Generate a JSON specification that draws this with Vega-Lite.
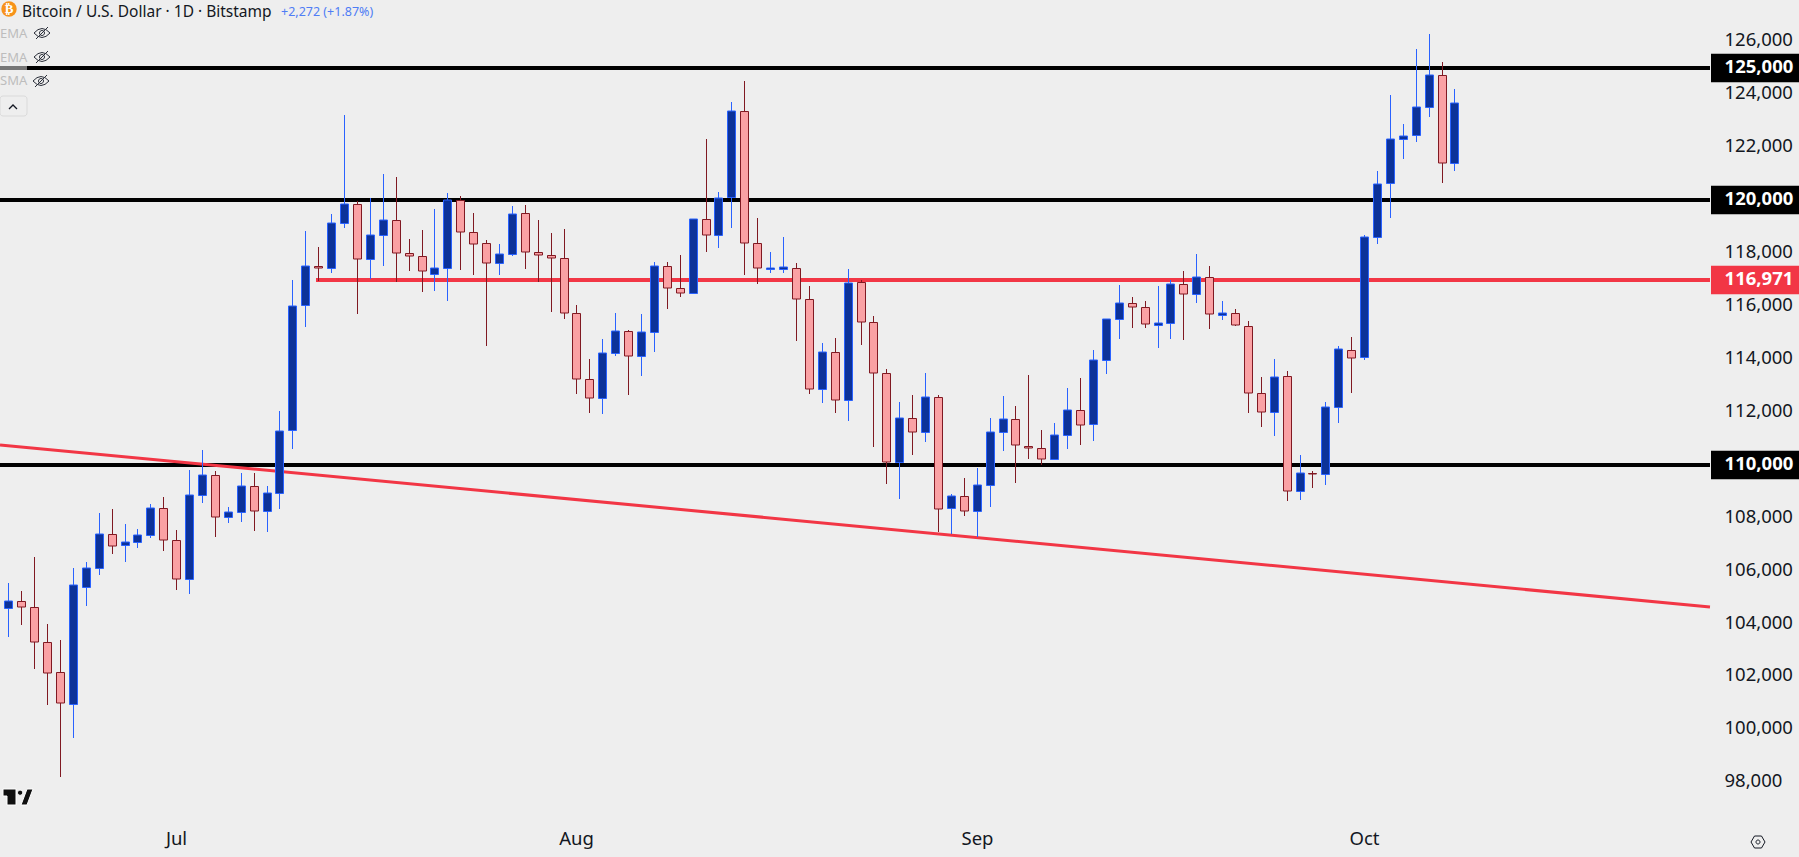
{
  "$schema": "https://vega.github.io/schema/vega-lite/v6.json",
  "width": 1799,
  "height": 857,
  "padding": 0,
  "autosize": {"type": "none"},
  "background": "#EEEEEE",
  "view": {"stroke": null},
  "config": {"font": "Noto Sans", "text": {"font": "Noto Sans"}},
  "datasets": {
    "levels": [
      {"price": 125000, "label": "125,000", "kind": "level", "from": "2025-06-17T08:34:00Z", "to": "2025-10-27T18:00:00Z", "tagFrom": "2025-10-27T20:53:00Z", "tagTo": "2025-11-03T16:19:00Z"},
      {"price": 120000, "label": "120,000", "kind": "level", "from": "2025-06-17T08:34:00Z", "to": "2025-10-27T18:00:00Z", "tagFrom": "2025-10-27T20:53:00Z", "tagTo": "2025-11-03T16:19:00Z"},
      {"price": 110000, "label": "110,000", "kind": "level", "from": "2025-06-17T08:34:00Z", "to": "2025-10-27T18:00:00Z", "tagFrom": "2025-10-27T20:53:00Z", "tagTo": "2025-11-03T16:19:00Z"},
      {"price": 116971, "label": "116,971", "kind": "pivot", "from": "2025-07-11T20:00:00Z", "to": "2025-10-27T18:00:00Z", "tagFrom": "2025-10-27T20:53:00Z", "tagTo": "2025-11-03T16:19:00Z"}
    ],
    "candles": [
      {"date":"2025-06-18","dir":"up","open":104574,"high":105518,"low":103503,"close":104863},
      {"date":"2025-06-19","dir":"down","open":104863,"high":105216,"low":103944,"close":104637},
      {"date":"2025-06-20","dir":"down","open":104637,"high":106513,"low":102294,"close":103289},
      {"date":"2025-06-21","dir":"down","open":103289,"high":103982,"low":100922,"close":102118},
      {"date":"2025-06-22","dir":"down","open":102156,"high":103377,"low":98214,"close":100985},
      {"date":"2025-06-23","dir":"up","open":100947,"high":106097,"low":99688,"close":105443},
      {"date":"2025-06-24","dir":"up","open":105367,"high":106312,"low":104662,"close":106085},
      {"date":"2025-06-25","dir":"up","open":106085,"high":108163,"low":105846,"close":107369},
      {"date":"2025-06-26","dir":"down","open":107369,"high":108326,"low":106639,"close":106941},
      {"date":"2025-06-27","dir":"up","open":106954,"high":107760,"low":106337,"close":107067},
      {"date":"2025-06-28","dir":"up","open":107067,"high":107571,"low":106866,"close":107332},
      {"date":"2025-06-29","dir":"up","open":107332,"high":108515,"low":107243,"close":108352},
      {"date":"2025-06-30","dir":"down","open":108352,"high":108767,"low":106752,"close":107143},
      {"date":"2025-07-01","dir":"down","open":107143,"high":107533,"low":105266,"close":105669},
      {"date":"2025-07-02","dir":"up","open":105669,"high":109800,"low":105128,"close":108843},
      {"date":"2025-07-03","dir":"up","open":108843,"high":110555,"low":108566,"close":109598},
      {"date":"2025-07-04","dir":"down","open":109598,"high":109762,"low":107269,"close":108012},
      {"date":"2025-07-05","dir":"up","open":108012,"high":108389,"low":107810,"close":108201},
      {"date":"2025-07-06","dir":"up","open":108201,"high":109674,"low":107848,"close":109183},
      {"date":"2025-07-07","dir":"down","open":109183,"high":109674,"low":107508,"close":108238},
      {"date":"2025-07-08","dir":"up","open":108238,"high":109195,"low":107470,"close":108918},
      {"date":"2025-07-09","dir":"up","open":108918,"high":112029,"low":108326,"close":111262},
      {"date":"2025-07-10","dir":"up","open":111311,"high":116978,"low":110606,"close":115983},
      {"date":"2025-07-11","dir":"up","open":116021,"high":118829,"low":115215,"close":117519},
      {"date":"2025-07-12","dir":"down","open":117519,"high":118212,"low":116953,"close":117419},
      {"date":"2025-07-13","dir":"up","open":117419,"high":119471,"low":117255,"close":119119},
      {"date":"2025-07-14","dir":"up","open":119119,"high":123199,"low":118955,"close":119836},
      {"date":"2025-07-15","dir":"down","open":119836,"high":119950,"low":115706,"close":117759},
      {"date":"2025-07-16","dir":"up","open":117759,"high":120063,"low":117003,"close":118691},
      {"date":"2025-07-17","dir":"up","open":118665,"high":120982,"low":117519,"close":119232},
      {"date":"2025-07-18","dir":"down","open":119232,"high":120857,"low":116902,"close":117985},
      {"date":"2025-07-19","dir":"down","open":117985,"high":118527,"low":117330,"close":117872},
      {"date":"2025-07-20","dir":"down","open":117872,"high":118867,"low":116537,"close":117305},
      {"date":"2025-07-21","dir":"up","open":117192,"high":119648,"low":116575,"close":117419},
      {"date":"2025-07-22","dir":"up","open":117419,"high":120252,"low":116197,"close":119988},
      {"date":"2025-07-23","dir":"down","open":119987,"high":120151,"low":117368,"close":118778},
      {"date":"2025-07-24","dir":"down","open":118778,"high":119509,"low":117179,"close":118325},
      {"date":"2025-07-25","dir":"down","open":118363,"high":118476,"low":114497,"close":117607},
      {"date":"2025-07-26","dir":"up","open":117607,"high":118338,"low":117179,"close":117947},
      {"date":"2025-07-27","dir":"up","open":117947,"high":119773,"low":117897,"close":119458},
      {"date":"2025-07-28","dir":"down","open":119496,"high":119811,"low":117406,"close":118023},
      {"date":"2025-07-29","dir":"down","open":118023,"high":119244,"low":116915,"close":117910},
      {"date":"2025-07-30","dir":"down","open":117910,"high":118753,"low":115781,"close":117796},
      {"date":"2025-07-31","dir":"down","open":117796,"high":118904,"low":115517,"close":115718},
      {"date":"2025-08-01","dir":"down","open":115718,"high":116021,"low":112683,"close":113225},
      {"date":"2025-08-02","dir":"down","open":113225,"high":113993,"low":111966,"close":112507},
      {"date":"2025-08-03","dir":"up","open":112507,"high":114749,"low":111928,"close":114207},
      {"date":"2025-08-04","dir":"up","open":114207,"high":115731,"low":114119,"close":115038},
      {"date":"2025-08-05","dir":"down","open":115038,"high":115076,"low":112646,"close":114094},
      {"date":"2025-08-06","dir":"up","open":114094,"high":115693,"low":113363,"close":115001},
      {"date":"2025-08-07","dir":"up","open":115001,"high":117658,"low":114270,"close":117494},
      {"date":"2025-08-08","dir":"down","open":117494,"high":117658,"low":115895,"close":116663},
      {"date":"2025-08-09","dir":"down","open":116663,"high":117910,"low":116348,"close":116474},
      {"date":"2025-08-10","dir":"up","open":116474,"high":119270,"low":116474,"close":119270},
      {"date":"2025-08-11","dir":"down","open":119270,"high":122304,"low":118048,"close":118665},
      {"date":"2025-08-12","dir":"up","open":118665,"high":120302,"low":118199,"close":120063},
      {"date":"2025-08-13","dir":"up","open":120101,"high":123702,"low":118955,"close":123350},
      {"date":"2025-08-14","dir":"down","open":123350,"high":124496,"low":117179,"close":118363},
      {"date":"2025-08-15","dir":"down","open":118363,"high":119320,"low":116839,"close":117418},
      {"date":"2025-08-16","dir":"up","open":117406,"high":118035,"low":117255,"close":117431},
      {"date":"2025-08-17","dir":"up","open":117406,"high":118602,"low":117255,"close":117456},
      {"date":"2025-08-18","dir":"down","open":117418,"high":117607,"low":114686,"close":116247},
      {"date":"2025-08-19","dir":"down","open":116247,"high":116751,"low":112683,"close":112847},
      {"date":"2025-08-20","dir":"up","open":112847,"high":114598,"low":112343,"close":114245},
      {"date":"2025-08-21","dir":"down","open":114245,"high":114786,"low":111966,"close":112432},
      {"date":"2025-08-22","dir":"up","open":112432,"high":117393,"low":111663,"close":116852},
      {"date":"2025-08-23","dir":"down","open":116889,"high":116978,"low":114535,"close":115378},
      {"date":"2025-08-24","dir":"down","open":115379,"high":115618,"low":110682,"close":113452},
      {"date":"2025-08-25","dir":"down","open":113452,"high":113603,"low":109284,"close":110090},
      {"date":"2025-08-26","dir":"up","open":110090,"high":112369,"low":108717,"close":111752},
      {"date":"2025-08-27","dir":"down","open":111752,"high":112633,"low":110379,"close":111223},
      {"date":"2025-08-28","dir":"up","open":111223,"high":113465,"low":110870,"close":112545},
      {"date":"2025-08-29","dir":"down","open":112545,"high":112633,"low":107470,"close":108314},
      {"date":"2025-08-30","dir":"up","open":108352,"high":108893,"low":107382,"close":108805},
      {"date":"2025-08-31","dir":"down","open":108805,"high":109498,"low":108075,"close":108239},
      {"date":"2025-09-01","dir":"up","open":108239,"high":109876,"low":107256,"close":109221},
      {"date":"2025-09-02","dir":"up","open":109221,"high":111765,"low":108415,"close":111223},
      {"date":"2025-09-03","dir":"up","open":111223,"high":112596,"low":110530,"close":111714},
      {"date":"2025-09-04","dir":"down","open":111714,"high":112218,"low":109322,"close":110732},
      {"date":"2025-09-05","dir":"down","open":110694,"high":113389,"low":110228,"close":110619},
      {"date":"2025-09-06","dir":"down","open":110619,"high":111311,"low":110002,"close":110203},
      {"date":"2025-09-07","dir":"up","open":110203,"high":111576,"low":110203,"close":111110},
      {"date":"2025-09-08","dir":"up","open":111110,"high":112898,"low":110606,"close":112054},
      {"date":"2025-09-09","dir":"down","open":112054,"high":113276,"low":110757,"close":111488},
      {"date":"2025-09-10","dir":"up","open":111525,"high":114334,"low":110908,"close":113943},
      {"date":"2025-09-11","dir":"up","open":113943,"high":115492,"low":113439,"close":115492},
      {"date":"2025-09-12","dir":"up","open":115492,"high":116789,"low":114762,"close":116097},
      {"date":"2025-09-13","dir":"down","open":116097,"high":116336,"low":115177,"close":115945},
      {"date":"2025-09-14","dir":"down","open":115945,"high":116185,"low":115177,"close":115303},
      {"date":"2025-09-15","dir":"up","open":115291,"high":116751,"low":114422,"close":115341},
      {"date":"2025-09-16","dir":"up","open":115341,"high":116978,"low":114762,"close":116814},
      {"date":"2025-09-17","dir":"down","open":116814,"high":117305,"low":114724,"close":116437},
      {"date":"2025-09-18","dir":"up","open":116437,"high":117960,"low":116122,"close":117079},
      {"date":"2025-09-19","dir":"down","open":117079,"high":117507,"low":115139,"close":115681},
      {"date":"2025-09-20","dir":"up","open":115668,"high":116185,"low":115479,"close":115719},
      {"date":"2025-09-21","dir":"down","open":115719,"high":115870,"low":115252,"close":115265},
      {"date":"2025-09-22","dir":"down","open":115228,"high":115417,"low":111966,"close":112696},
      {"date":"2025-09-23","dir":"down","open":112696,"high":113313,"low":111437,"close":111979},
      {"date":"2025-09-24","dir":"up","open":111979,"high":113994,"low":111097,"close":113301},
      {"date":"2025-09-25","dir":"down","open":113339,"high":113540,"low":108641,"close":108994},
      {"date":"2025-09-26","dir":"up","open":108994,"high":110367,"low":108679,"close":109674},
      {"date":"2025-09-27","dir":"down","open":109699,"high":109749,"low":109119,"close":109648},
      {"date":"2025-09-28","dir":"up","open":109636,"high":112368,"low":109233,"close":112167},
      {"date":"2025-09-29","dir":"up","open":112167,"high":114484,"low":111588,"close":114358},
      {"date":"2025-09-30","dir":"down","open":114320,"high":114824,"low":112721,"close":114018},
      {"date":"2025-10-01","dir":"up","open":114056,"high":118678,"low":113955,"close":118615},
      {"date":"2025-10-02","dir":"up","open":118615,"high":121095,"low":118338,"close":120592},
      {"date":"2025-10-03","dir":"up","open":120629,"high":123967,"low":119332,"close":122292},
      {"date":"2025-10-04","dir":"up","open":122292,"high":122871,"low":121549,"close":122405},
      {"date":"2025-10-05","dir":"up","open":122443,"high":125704,"low":122204,"close":123501},
      {"date":"2025-10-06","dir":"up","open":123501,"high":126271,"low":123135,"close":124710},
      {"date":"2025-10-07","dir":"down","open":124710,"high":125213,"low":120655,"close":121385},
      {"date":"2025-10-08","dir":"up","open":121385,"high":124193,"low":121108,"close":123652}
    ]
  },
  "layer": [
    {
      "data": {"name": "levels"},
      "mark": {"type": "rule", "strokeWidth": 4},
      "encoding": {
        "x": {
          "field": "from",
          "type": "temporal",
          "title": null,
          "scale": {"type": "utc", "padding": 0, "round": true, "domain": ["2025-06-17T08:34:00Z", "2025-11-03T16:19:00Z"]},
          "axis": {
            "orient": "bottom",
            "offset": -28,
            "grid": false,
            "domain": false,
            "ticks": false,
            "title": null,
            "labelPadding": 0,
            "labelFontSize": 18.5,
            "labelColor": "#131722",
            "labelFont": "Noto Sans",
            "labelFlush": false,
            "labelOverlap": false,
            "values": [
              {"year": 2025, "month": 7, "date": 1, "utc": true},
              {"year": 2025, "month": 8, "date": 1, "utc": true},
              {"year": 2025, "month": 9, "date": 1, "utc": true},
              {"year": 2025, "month": 10, "date": 1, "utc": true}
            ],
            "labelExpr": "utcFormat(datum.value, '%b')"
          }
        },
        "x2": {"field": "to"},
        "y": {
          "field": "price",
          "type": "quantitative",
          "title": null,
          "scale": {"domain": [95179, 127556], "nice": false, "zero": false, "round": true},
          "axis": {
            "orient": "right",
            "offset": -90,
            "grid": false,
            "domain": false,
            "ticks": false,
            "title": null,
            "labelPadding": 15,
            "labelOffset": -1.5,
            "labelAlign": "left",
            "labelFontSize": 18.5,
            "labelColor": "#131722",
            "labelFont": "Noto Sans",
            "labelOverlap": false,
            "format": ",d",
            "values": [98000, 100000, 102000, 104000, 106000, 108000, 112000, 114000, 116000, 118000, 122000, 124000, 126000]
          }
        },
        "color": {
          "field": "kind",
          "type": "nominal",
          "legend": null,
          "scale": {"domain": ["level", "pivot"], "range": ["#000000", "#F23645"]}
        }
      }
    },
    {
      "data": {"values": [
        {"date": "2025-06-17T08:34:00Z", "price": 110755},
        {"date": "2025-10-27T18:00:00Z", "price": 104635}
      ]},
      "mark": {"type": "line", "color": "#F23645", "strokeWidth": 3},
      "encoding": {
        "x": {"field": "date", "type": "temporal"},
        "y": {"field": "price", "type": "quantitative"}
      }
    },
    {
      "data": {"name": "candles"},
      "mark": {"type": "rule", "strokeWidth": 1, "xOffset": 0.5},
      "encoding": {
        "x": {"field": "date", "type": "temporal"},
        "y": {"field": "low", "type": "quantitative"},
        "y2": {"field": "high"},
        "stroke": {
          "field": "dir",
          "type": "nominal",
          "legend": null,
          "scale": {"domain": ["up", "down"], "range": ["#2962FF", "#801922"]}
        }
      }
    },
    {
      "data": {"name": "candles"},
      "mark": {"type": "bar", "size": 8, "strokeWidth": 1, "xOffset": 0.5, "yOffset": 0.5},
      "encoding": {
        "x": {"field": "date", "type": "temporal"},
        "y": {"field": "open", "type": "quantitative"},
        "y2": {"field": "close"},
        "stroke": {"field": "dir", "type": "nominal", "legend": null},
        "fill": {
          "field": "dir",
          "type": "nominal",
          "legend": null,
          "scale": {"domain": ["up", "down"], "range": ["#0C3299", "#FAA1A4"]}
        }
      }
    },
    {
      "data": {"name": "levels"},
      "mark": {"type": "rule", "strokeWidth": 28.7},
      "encoding": {
        "x": {"field": "tagFrom", "type": "temporal"},
        "x2": {"field": "tagTo"},
        "y": {"field": "price", "type": "quantitative"},
        "color": {"field": "kind", "type": "nominal", "legend": null}
      }
    },
    {
      "data": {"name": "levels"},
      "mark": {"type": "text", "align": "left", "baseline": "middle", "dx": 13.6, "dy": -1, "fontSize": 18.5, "color": "#FFFFFF", "fontWeight": "bold", "font": "Noto Sans"},
      "encoding": {
        "x": {"field": "tagFrom", "type": "temporal"},
        "y": {"field": "price", "type": "quantitative"},
        "text": {"field": "label"}
      }
    },
    {
      "data": {"values": [{"from": "2025-06-17T08:34:00Z", "to": "2025-06-19T10:48:00Z", "price": 125000}]},
      "mark": {"type": "rule", "strokeWidth": 4, "color": "#777777"},
      "encoding": {
        "x": {"field": "from", "type": "temporal"},
        "x2": {"field": "to"},
        "y": {"field": "price", "type": "quantitative"}
      }
    },
    {
      "data": {"values": [{"date": "2025-06-18T01:18:00Z", "price": 127205}]},
      "mark": {"type": "point", "shape": "circle", "filled": true, "size": 238, "color": "#F7931A", "opacity": 1},
      "encoding": {
        "x": {"field": "date", "type": "temporal"},
        "y": {"field": "price", "type": "quantitative"}
      }
    },
    {
      "data": {"values": [{"date": "2025-06-18T01:18:00Z", "price": 127205, "glyph": "₿"}]},
      "mark": {"type": "text", "fontSize": 13, "fontWeight": "bold", "color": "#FFFFFF", "align": "center", "baseline": "middle", "font": "DejaVu Sans"},
      "encoding": {
        "x": {"field": "date", "type": "temporal"},
        "y": {"field": "price", "type": "quantitative"},
        "text": {"field": "glyph"}
      }
    },
    {
      "data": {"values": [{"date": "2025-06-19T01:30:00Z", "price": 127120, "name": "Bitcoin / U.S. Dollar · 1D · Bitstamp"}]},
      "mark": {"type": "text", "fontSize": 15.5, "color": "#131722", "align": "left", "baseline": "middle"},
      "encoding": {
        "x": {"field": "date", "type": "temporal"},
        "y": {"field": "price", "type": "quantitative"},
        "text": {"field": "name"}
      }
    },
    {
      "data": {"values": [{"date": "2025-07-09T03:00:00Z", "price": 127120, "change": "+2,272 (+1.87%)"}]},
      "mark": {"type": "text", "fontSize": 12.5, "color": "#4F7DF5", "align": "left", "baseline": "middle"},
      "encoding": {
        "x": {"field": "date", "type": "temporal"},
        "y": {"field": "price", "type": "quantitative"},
        "text": {"field": "change"}
      }
    },
    {
      "data": {"values": [
        {"date": "2025-06-17T08:34:00Z", "price": 126290, "study": "EMA"},
        {"date": "2025-06-17T08:34:00Z", "price": 125376, "study": "EMA"},
        {"date": "2025-06-17T08:34:00Z", "price": 124477, "study": "SMA"}
      ]},
      "mark": {"type": "text", "fontSize": 13, "color": "#BDBDBD", "align": "left", "baseline": "middle"},
      "encoding": {
        "x": {"field": "date", "type": "temporal"},
        "y": {"field": "price", "type": "quantitative"},
        "text": {"field": "study"}
      }
    },
    {
      "data": {"values": [
        {"date": "2025-06-20T14:38:00Z", "price": 126298},
        {"date": "2025-06-20T14:38:00Z", "price": 125391},
        {"date": "2025-06-20T12:00:00Z", "price": 124496}
      ]},
      "mark": {"type": "point", "filled": false, "size": 4, "stroke": "#2A2E39", "strokeWidth": 1, "opacity": 1, "shape": "M-8 0Q0 -9 8 0Q0 9 -8 0ZM-2.5 0A2.5 2.5 0 1 0 2.5 0A2.5 2.5 0 1 0 -2.5 0ZM-6 6L6 -6"},
      "encoding": {
        "x": {"field": "date", "type": "temporal"},
        "y": {"field": "price", "type": "quantitative"}
      }
    },
    {
      "data": {"values": [{"from": "2025-06-17T08:34:00Z", "to": "2025-06-19T10:48:00Z", "top": 123929, "bottom": 123173}]},
      "mark": {"type": "rect", "fill": null, "stroke": "#DADADA", "strokeWidth": 1, "cornerRadius": 3},
      "encoding": {
        "x": {"field": "from", "type": "temporal"},
        "x2": {"field": "to"},
        "y": {"field": "top", "type": "quantitative"},
        "y2": {"field": "bottom"}
      }
    },
    {
      "data": {"values": [{"date": "2025-06-18T09:20:00Z", "price": 123514}]},
      "mark": {"type": "point", "filled": false, "size": 4, "stroke": "#131722", "strokeWidth": 1.3, "opacity": 1, "shape": "M-4 2L0 -2L4 2"},
      "encoding": {
        "x": {"field": "date", "type": "temporal"},
        "y": {"field": "price", "type": "quantitative"}
      }
    },
    {
      "data": {"values": [{"date": "2025-06-18T18:00:00Z", "price": 97445}]},
      "mark": {"type": "point", "filled": true, "size": 4, "fill": "#0F0F0F", "stroke": "#FFFFFF", "strokeWidth": 1, "opacity": 1, "shape": "M-15 -8H-2V8H-11V-1H-15ZM9 -8H15L9 8H3ZM-0.5 -4.3A2.6 2.6 0 1 0 4.7 -4.3A2.6 2.6 0 1 0 -0.5 -4.3Z"},
      "encoding": {
        "x": {"field": "date", "type": "temporal"},
        "y": {"field": "price", "type": "quantitative"}
      }
    },
    {
      "data": {"values": [{"date": "2025-10-31T12:00:00Z", "price": 95757}]},
      "mark": {"type": "point", "filled": false, "size": 4, "stroke": "#131722", "strokeWidth": 1, "opacity": 1, "shape": "M-7 0L-3.5 -6H3.5L7 0L3.5 6H-3.5ZM-2 0A2 2 0 1 0 2 0A2 2 0 1 0 -2 0Z"},
      "encoding": {
        "x": {"field": "date", "type": "temporal"},
        "y": {"field": "price", "type": "quantitative"}
      }
    }
  ]
}
